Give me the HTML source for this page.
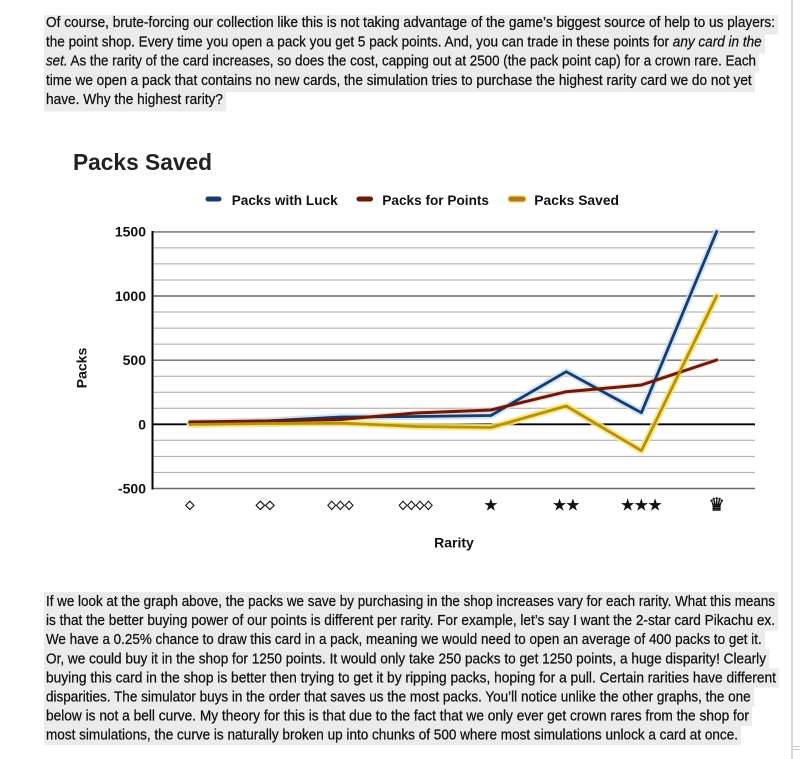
<!DOCTYPE html>
<html>
<head>
<meta charset="utf-8">
<style>
  html, body { margin: 0; padding: 0; background: #ffffff; }
  body { width: 800px; height: 759px; overflow: hidden; }
  svg { display: block; }
  .para { font-family: "Liberation Sans", "DejaVu Sans", sans-serif; font-size: 15px; fill: #111; stroke: #111; stroke-width: 0.25px; }
  .ax { font-family: "Liberation Sans", sans-serif; font-weight: bold; font-size: 14px; fill: #111; }
  .sym { font-family: "DejaVu Sans", sans-serif; fill: #111; stroke: #111; stroke-width: 0.5px; }
</style>
</head>
<body>
<svg width="800" height="759" viewBox="0 0 800 759" xmlns="http://www.w3.org/2000/svg">
  <rect x="0" y="0" width="800" height="759" fill="#ffffff"/>
  <!-- right page border -->
  <rect x="791" y="0" width="2" height="759" fill="#d9d9d9"/>
  <rect x="793" y="746" width="7" height="1" fill="#c8c8c8"/>
  <rect x="793" y="749" width="7" height="1" fill="#c8c8c8"/>

  <!-- top paragraph highlight -->
  <g fill="#ebebeb">
    <rect x="44" y="15" width="734" height="19.4"/>
    <rect x="44" y="34.2" width="721" height="19.4"/>
    <rect x="44" y="53.4" width="715" height="19.4"/>
    <rect x="44" y="72.6" width="711" height="19.4"/>
    <rect x="44" y="91.8" width="182" height="19.6"/>
  </g>
  <text class="para" x="46" y="27.2" textLength="729" lengthAdjust="spacingAndGlyphs">Of course, brute-forcing our collection like this is not taking advantage of the game’s biggest source of help to us players:</text>
  <text class="para" x="46" y="46.4" textLength="715.7" lengthAdjust="spacingAndGlyphs">the point shop. Every time you open a pack you get 5 pack points. And, you can trade in these points for <tspan font-style="italic">any card in the</tspan></text>
  <text class="para" x="46" y="65.6" textLength="710" lengthAdjust="spacingAndGlyphs"><tspan font-style="italic">set.</tspan> As the rarity of the card increases, so does the cost, capping out at 2500 (the pack point cap) for a crown rare. Each</text>
  <text class="para" x="46" y="84.8" textLength="705.7" lengthAdjust="spacingAndGlyphs">time we open a pack that contains no new cards, the simulation tries to purchase the highest rarity card we do not yet</text>
  <text class="para" x="46" y="104" textLength="177" lengthAdjust="spacingAndGlyphs">have. Why the highest rarity?</text>

  <!-- chart title -->
  <text x="73" y="170" font-family="Liberation Sans, sans-serif" font-weight="bold" font-size="23" fill="#222" textLength="139" lengthAdjust="spacingAndGlyphs">Packs Saved</text>

  <!-- legend -->
  <rect x="205.5" y="196.5" width="16" height="5" rx="2.5" fill="#1a3a6b"/>
  <text class="ax" x="231.7" y="205" textLength="106" lengthAdjust="spacingAndGlyphs">Packs with Luck</text>
  <rect x="356.5" y="196.5" width="16.5" height="5" rx="2.5" fill="#6b1a0a"/>
  <text class="ax" x="382.3" y="205" textLength="106.7" lengthAdjust="spacingAndGlyphs">Packs for Points</text>
  <rect x="507" y="195" width="20" height="8" rx="4" fill="#f6e27a" opacity="0.8"/>
  <rect x="508.5" y="196.5" width="17" height="5" rx="2.5" fill="#b0781a"/>
  <text class="ax" x="534.3" y="205" textLength="84.7" lengthAdjust="spacingAndGlyphs">Packs Saved</text>

  <!-- gridlines -->
  <g stroke="#a6a6a6" stroke-width="1">
    <line x1="153" y1="472.4" x2="755" y2="472.4"/>
    <line x1="153" y1="456.4" x2="755" y2="456.4"/>
    <line x1="153" y1="440.3" x2="755" y2="440.3"/>
    <line x1="153" y1="408.3" x2="755" y2="408.3"/>
    <line x1="153" y1="392.2" x2="755" y2="392.2"/>
    <line x1="153" y1="376.2" x2="755" y2="376.2"/>
    <line x1="153" y1="344.1" x2="755" y2="344.1"/>
    <line x1="153" y1="328.1" x2="755" y2="328.1"/>
    <line x1="153" y1="312.0" x2="755" y2="312.0"/>
    <line x1="153" y1="280.0" x2="755" y2="280.0"/>
    <line x1="153" y1="263.9" x2="755" y2="263.9"/>
    <line x1="153" y1="247.9" x2="755" y2="247.9"/>
  </g>
  <g stroke="#6a6a6a" stroke-width="1.4">
    <line x1="153" y1="488.5" x2="755" y2="488.5"/>
    <line x1="153" y1="360.2" x2="755" y2="360.2"/>
    <line x1="153" y1="296.0" x2="755" y2="296.0"/>
    <line x1="153" y1="231.9" x2="755" y2="231.9"/>
  </g>
  <line x1="153" y1="424.3" x2="755" y2="424.3" stroke="#000" stroke-width="1.8"/>
  <line x1="152.5" y1="231" x2="152.5" y2="489.5" stroke="#000" stroke-width="2"/>

  <!-- y labels -->
  <text class="ax" x="146" y="236.5" text-anchor="end">1500</text>
  <text class="ax" x="146" y="301" text-anchor="end">1000</text>
  <text class="ax" x="146" y="365" text-anchor="end">500</text>
  <text class="ax" x="146" y="429.3" text-anchor="end">0</text>
  <text class="ax" x="146" y="493.5" text-anchor="end">-500</text>
  <text class="ax" transform="translate(86.5,368) rotate(-90)" text-anchor="middle">Packs</text>

  <!-- series halos -->
  <g fill="none" stroke-linejoin="round" stroke-linecap="round">
    <polyline points="189.9,423 265.2,421 340.4,417 415.7,416.5 490.9,415.5 566.2,371.7 641.4,412.7 716.7,231.5" stroke="#c6e1f5" stroke-width="7" opacity="0.8"/>
    <polyline points="189.9,422 265.2,421 340.4,419.5 415.7,413 490.9,410 566.2,391.7 641.4,385 716.7,360" stroke="#f1d2c4" stroke-width="6" opacity="0.6"/>
    <polyline points="189.9,424.5 265.2,423.5 340.4,423 415.7,426.5 490.9,427.5 566.2,406 641.4,450.7 716.7,296" stroke="#f8e67a" stroke-width="7" opacity="0.85"/>
  </g>
  <!-- series lines -->
  <g fill="none" stroke-linejoin="round" stroke-linecap="round">
    <polyline points="189.9,423 265.2,421 340.4,417 415.7,416.5 490.9,415.5 566.2,371.7 641.4,412.7 716.7,231.5" stroke="#1a3a6b" stroke-width="2.8"/>
    <polyline points="189.9,422 265.2,421 340.4,419.5 415.7,413 490.9,410 566.2,391.7 641.4,385 716.7,360" stroke="#6b1a0a" stroke-width="3"/>
    <polyline points="189.9,424.5 265.2,423.5 340.4,423 415.7,426.5 490.9,427.5 566.2,406 641.4,450.7 716.7,296" stroke="#b8900a" stroke-width="2.8"/>
  </g>

  <!-- x tick labels -->
  <text class="sym" x="189.9" y="508.5" font-size="12" text-anchor="middle">◇</text>
  <text class="sym" x="265.2" y="508.5" font-size="12" text-anchor="middle" textLength="19" lengthAdjust="spacingAndGlyphs">◇◇</text>
  <text class="sym" x="340.4" y="508.5" font-size="12" text-anchor="middle" textLength="26" lengthAdjust="spacingAndGlyphs">◇◇◇</text>
  <text class="sym" x="415.7" y="508.5" font-size="12" text-anchor="middle" textLength="34" lengthAdjust="spacingAndGlyphs">◇◇◇◇</text>
  <text class="sym" x="490.9" y="510" font-size="15" text-anchor="middle">★</text>
  <text class="sym" x="566.2" y="510" font-size="15" text-anchor="middle" textLength="27" lengthAdjust="spacingAndGlyphs">★★</text>
  <text class="sym" x="641.4" y="510" font-size="15" text-anchor="middle" textLength="41" lengthAdjust="spacingAndGlyphs">★★★</text>
  <text class="sym" x="716.7" y="510.5" font-size="18" text-anchor="middle">♛</text>

  <text class="ax" x="454" y="547.5" text-anchor="middle">Rarity</text>

  <!-- bottom paragraph highlight -->
  <g fill="#ebebeb">
    <rect x="44" y="592" width="734" height="19.3"/>
    <rect x="44" y="611.1" width="734" height="19.3"/>
    <rect x="44" y="630.2" width="721" height="19.3"/>
    <rect x="44" y="649.3" width="725" height="19.3"/>
    <rect x="44" y="668.4" width="735" height="19.3"/>
    <rect x="44" y="687.5" width="710" height="19.3"/>
    <rect x="44" y="706.6" width="708" height="19.3"/>
    <rect x="44" y="725.7" width="697" height="19.5"/>
  </g>
  <text class="para" x="46" y="606" textLength="729" lengthAdjust="spacingAndGlyphs">If we look at the graph above, the packs we save by purchasing in the shop increases vary for each rarity. What this means</text>
  <text class="para" x="46" y="625.1" textLength="729" lengthAdjust="spacingAndGlyphs">is that the better buying power of our points is different per rarity. For example, let’s say I want the 2-star card Pikachu ex.</text>
  <text class="para" x="46" y="644.2" textLength="715.7" lengthAdjust="spacingAndGlyphs">We have a 0.25% chance to draw this card in a pack, meaning we would need to open an average of 400 packs to get it.</text>
  <text class="para" x="46" y="663.3" textLength="720" lengthAdjust="spacingAndGlyphs">Or, we could buy it in the shop for 1250 points. It would only take 250 packs to get 1250 points, a huge disparity! Clearly</text>
  <text class="para" x="46" y="682.4" textLength="730" lengthAdjust="spacingAndGlyphs">buying this card in the shop is better then trying to get it by ripping packs, hoping for a pull. Certain rarities have different</text>
  <text class="para" x="46" y="701.5" textLength="704.7" lengthAdjust="spacingAndGlyphs">disparities. The simulator buys in the order that saves us the most packs. You’ll notice unlike the other graphs, the one</text>
  <text class="para" x="46" y="720.6" textLength="703" lengthAdjust="spacingAndGlyphs">below is not a bell curve. My theory for this is that due to the fact that we only ever get crown rares from the shop for</text>
  <text class="para" x="46" y="739.7" textLength="692" lengthAdjust="spacingAndGlyphs">most simulations, the curve is naturally broken up into chunks of 500 where most simulations unlock a card at once.</text>
</svg>
</body>
</html>
